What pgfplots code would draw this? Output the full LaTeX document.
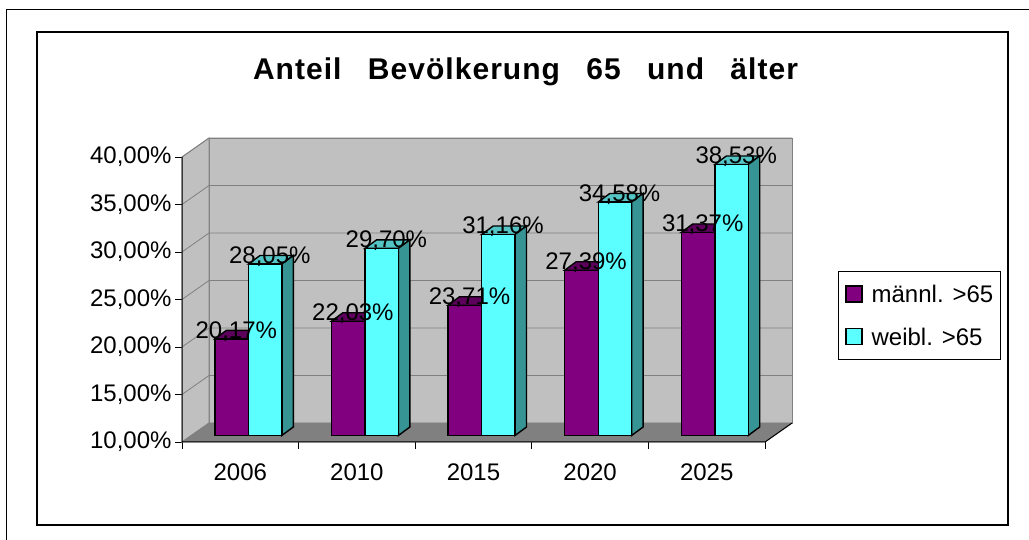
\documentclass[border=0pt]{standalone}
\usepackage{fontspec}
\setmainfont{Liberation Sans}
\newfontfamily\titlefont{Liberation Sans}[LetterSpace=3.5,WordSpace=2.8]
\usepackage{pgfplots}
\pgfplotsset{compat=1.18}
\usepackage{pgfplotstable}

\definecolor{barpurple}{HTML}{800080}
\definecolor{purpletop}{HTML}{5C005C}
\definecolor{barcyan}{HTML}{5CFFFF}
\definecolor{cyantop}{HTML}{55C4C4}
\definecolor{cyanside}{HTML}{369494}
\definecolor{wallgray}{HTML}{C0C0C0}
\definecolor{floorgray}{HTML}{808080}
\definecolor{gridgray}{HTML}{808080}

\pgfplotstableread{
x m w
0 20.17 28.05
1 22.03 29.70
2 23.71 31.16
3 27.39 34.58
4 31.37 38.53
}\datatable

\newcommand\labfont{\fontsize{24}{28}\selectfont}

\pgfdeclareplotmark{barM}{%
  \pgfscope
  \pgfkeys{/pgf/fpu=true,/pgf/fpu/output format=fixed}%
  \pgfmathsetmacro\hb{6.5-(\val-10)*9.5}%
  \pgfkeys{/pgf/fpu=false}%
  \pgfsetlinewidth{1.4pt}\pgfsetstrokecolor{black}\pgfsetmiterjoin
  \pgfsetfillcolor{purpletop}%
  \pgfpathmoveto{\pgfpoint{-25.5pt}{6.5pt}}%
  \pgfpathlineto{\pgfpoint{8.2pt}{6.5pt}}%
  \pgfpathlineto{\pgfpoint{19.7pt}{15pt}}%
  \pgfpathlineto{\pgfpoint{-14pt}{15pt}}%
  \pgfpathclose\pgfusepath{fill,stroke}%
  \pgfsetfillcolor{barpurple}%
  \pgfpathrectanglecorners{\pgfpoint{-25.5pt}{\hb pt}}{\pgfpoint{8.2pt}{6.5pt}}%
  \pgfusepath{fill,stroke}%
  \endpgfscope
}
\pgfdeclareplotmark{barW}{%
  \pgfscope
  \pgfkeys{/pgf/fpu=true,/pgf/fpu/output format=fixed}%
  \pgfmathsetmacro\hb{6.5-(\val-10)*9.5}%
  \pgfmathsetmacro\hbb{\hb+8.5}%
  \pgfkeys{/pgf/fpu=false}%
  \pgfsetlinewidth{1.4pt}\pgfsetstrokecolor{black}\pgfsetmiterjoin
  \pgfsetfillcolor{cyantop}%
  \pgfpathmoveto{\pgfpoint{8.2pt}{6.5pt}}%
  \pgfpathlineto{\pgfpoint{41.5pt}{6.5pt}}%
  \pgfpathlineto{\pgfpoint{53pt}{15pt}}%
  \pgfpathlineto{\pgfpoint{19.7pt}{15pt}}%
  \pgfpathclose\pgfusepath{fill,stroke}%
  \pgfsetfillcolor{cyanside}%
  \pgfpathmoveto{\pgfpoint{41.5pt}{\hb pt}}%
  \pgfpathlineto{\pgfpoint{53pt}{\hbb pt}}%
  \pgfpathlineto{\pgfpoint{53pt}{15pt}}%
  \pgfpathlineto{\pgfpoint{41.5pt}{6.5pt}}%
  \pgfpathclose\pgfusepath{fill,stroke}%
  \pgfsetfillcolor{barcyan}%
  \pgfpathrectanglecorners{\pgfpoint{8.2pt}{\hb pt}}{\pgfpoint{41.5pt}{6.5pt}}%
  \pgfusepath{fill,stroke}%
  \endpgfscope
}

\begin{document}
\begin{tikzpicture}
\useasboundingbox (0pt,0pt) rectangle (1029pt,540pt);
\fill[white] (0pt,0pt) rectangle (1029pt,540pt);
\draw[black, line width=1pt] (1029pt,530pt) -- (6pt,530pt) -- (6pt,0pt);
\draw[black, line width=2pt] (37pt,15pt) rectangle (1008pt,508pt);
\node[font=\titlefont\bfseries\fontsize{30}{34}\selectfont, anchor=base] at (525.5pt,460.5pt) {Anteil Bevölkerung 65 und älter};

\begin{axis}[
  at={(182pt,98pt)}, anchor=south west,
  x=116.6pt, y=9.5pt,
  xmin=-0.5, xmax=4.732, ymin=10, ymax=42,
  clip=false,
  axis line style={draw=none},
  tick pos=left, tick align=outside,
  major tick length=7pt,
  tick style={black, line width=0.8pt},
  xtick={-0.5,0.5,...,4.5}, xticklabels={},
  extra x ticks={0,1,2,3,4},
  extra x tick labels={2006,2010,2015,2020,2025},
  extra x tick style={major tick length=0pt},
  xticklabel style={yshift=-18pt},
  ytick={10,15,...,40},
  yticklabel={\pgfmathprintnumber[fixed,fixed zerofill,precision=2,use comma]{\tick}\%},
  ticklabel style={font=\labfont, text=black},
  /pgf/number format/assume math mode=true,
  legend style={at={(1.0754,0.5625)}, anchor=north west, draw=black, line width=0.8pt, fill=white,
    font=\labfont, inner xsep=7pt, inner ysep=14pt, row sep=25pt, column sep=9pt,
    nodes={inner sep=0pt, text depth=0pt}},
  legend cell align=left,
]
% walls and floor
\addplot[fill=wallgray, draw=gridgray, line width=0.8pt, forget plot] coordinates {(-0.268,12) (4.732,12) (4.732,42) (-0.268,42)} -- cycle;
\addplot[fill=wallgray, draw=gridgray, line width=0.8pt, forget plot] coordinates {(-0.5,10) (-0.268,12) (-0.268,42) (-0.5,40)} -- cycle;
\addplot[fill=floorgray, draw=gridgray, line width=0.8pt, forget plot] coordinates {(-0.5,10) (4.5,10) (4.732,12) (-0.268,12)} -- cycle;
% gridlines
\addplot[gridgray, line width=0.8pt, forget plot] coordinates {(-0.5,15) (-0.268,17) (4.732,17)};
\addplot[gridgray, line width=0.8pt, forget plot] coordinates {(-0.5,20) (-0.268,22) (4.732,22)};
\addplot[gridgray, line width=0.8pt, forget plot] coordinates {(-0.5,25) (-0.268,27) (4.732,27)};
\addplot[gridgray, line width=0.8pt, forget plot] coordinates {(-0.5,30) (-0.268,32) (4.732,32)};
\addplot[gridgray, line width=0.8pt, forget plot] coordinates {(-0.5,35) (-0.268,37) (4.732,37)};
\addplot[gridgray, line width=0.8pt, forget plot] coordinates {(-0.5,40) (-0.268,42) (4.732,42)};
% front axes
\addplot[black, line width=1pt, forget plot] coordinates {(-0.5,40) (-0.5,10) (4.5,10) (4.732,12)};
% bars
\addplot[scatter, only marks, mark=barM, forget plot,
  visualization depends on={\thisrow{m} \as \val}] table[x=x,y=m]{\datatable};
\addplot[scatter, only marks, mark=barW, forget plot,
  visualization depends on={\thisrow{w} \as \val}] table[x=x,y=w]{\datatable};
% value labels
\addplot[draw=none, forget plot, nodes near coords={\pgfmathprintnumber[fixed,fixed zerofill,precision=2,use comma]{\pgfplotspointmeta}\%},
  nodes near coords style={anchor=base, inner sep=0pt, xshift=-4pt, yshift=7pt, font=\labfont, text=black}]
  table[x=x,y=m]{\datatable};
\addplot[draw=none, forget plot, nodes near coords={\pgfmathprintnumber[fixed,fixed zerofill,precision=2,use comma]{\pgfplotspointmeta}\%},
  nodes near coords style={anchor=base, inner sep=0pt, xshift=29.5pt, yshift=7pt, font=\labfont, text=black}]
  table[x=x,y=w]{\datatable};
% legend
\addlegendimage{legend image code/.code={\draw[fill=barpurple, draw=black, line width=1.2pt] (0pt,-8pt) rectangle (16pt,8pt);}}
\addlegendentry{männl. >65}
\addlegendimage{legend image code/.code={\draw[fill=barcyan, draw=black, line width=1.2pt] (0pt,-8pt) rectangle (16pt,8pt);}}
\addlegendentry{weibl. >65}
\end{axis}
\end{tikzpicture}
\end{document}
